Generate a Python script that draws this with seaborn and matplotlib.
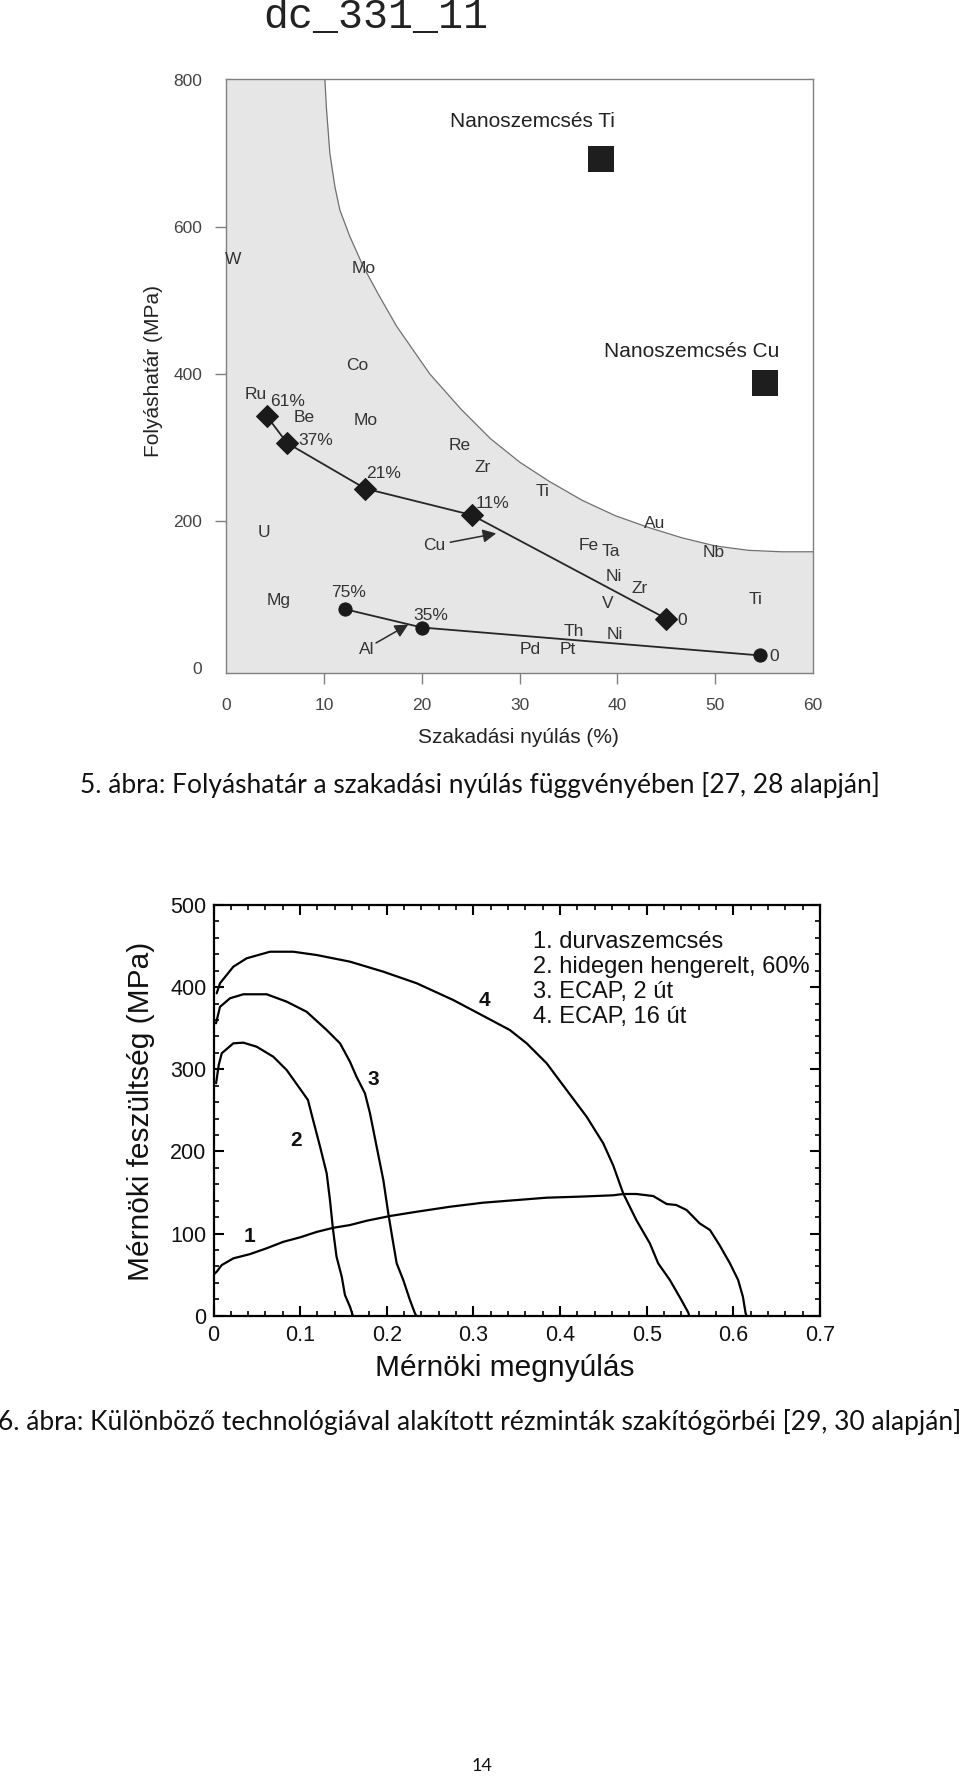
import matplotlib
matplotlib.use('Agg')
import matplotlib.pyplot as plt
import matplotlib.ticker as mtick
import seaborn as sns

# ---- figure 5: yield strength vs elongation ----
boundary_elong = [10.07, 10.24, 10.58, 11.09, 11.6, 12.62, 14.0, 15.68, 17.4, 20.8,
                  24.0, 27.0, 30.0, 33.0, 36.4, 39.8, 43.2, 46.6, 50.0, 53.4,
                  56.8, 60.0]
boundary_yield = [801, 759, 700, 655, 623, 587, 546, 505, 465, 400,
                  352, 312, 280, 254, 228, 207, 191, 177, 166, 160,
                  158, 158]

cu_elong = [4.1, 6.2, 14.2, 25.1, 45.0]
cu_yield = [343, 306, 244, 208, 67]
al_elong = [12.1, 20.0, 54.6]
al_yield = [80, 55, 17]

nano_names = ['Nanoszemcsés Ti', 'Nanoszemcsés Cu']
nano_elong = [38.3, 55.1]
nano_yield = [692, 387]

metal_names = ['W', 'Mo', 'Co', 'Be', 'Mo', 'Re', 'Zr', 'Ti', 'U', 'Mg',
               'Au', 'Fe', 'Ta', 'Nb', 'Ni', 'Zr', 'V', 'Ti', 'Th', 'Ni',
               'Pd', 'Pt', 'Ru']
metal_elong = [0.72, 14.0, 13.4, 8.0, 14.2, 23.9, 26.2, 32.3, 3.8, 5.35,
               43.8, 37.1, 39.3, 49.8, 39.6, 42.25, 39.05, 54.1, 35.5, 39.7,
               31.1, 34.9, 3.0]
metal_yield = [556, 544, 411, 341, 336, 303, 273, 240, 184, 92,
               196, 167, 158, 157, 124, 108, 87, 93, 49, 46,
               25, 25, 372]

# percent labels next to the Cu / Al chains
pct_text = ['61%', '37%', '21%', '11%', '0', '75%', '35%', '0']
pct_elong = [6.2, 9.1, 16.1, 27.2, 46.6, 12.45, 20.95, 56.0]
pct_yield = [362, 310, 264, 224, 65, 102, 72, 15]

elong_ticks = [0, 10, 20, 30, 40, 50, 60]
yield_ticks = [0, 200, 400, 600, 800]

# ---- figure 6: engineering stress-strain curves ----
strain_1 = [0.0, 0.0037, 0.0095, 0.023, 0.042, 0.061, 0.0806, 0.0998, 0.119, 0.138,
            0.1575, 0.177, 0.2037, 0.2345, 0.273, 0.311, 0.346, 0.3845, 0.423, 0.461,
            0.473, 0.488, 0.5075, 0.523, 0.534, 0.546, 0.561, 0.573, 0.584, 0.596,
            0.6055, 0.611, 0.614, 0.615]
stress_1 = [50, 53.6, 61.7, 69.9, 75, 82, 90, 95.4, 102, 107,
            110.4, 115.7, 121.4, 126.6, 132.7, 137.6, 140.5, 143.7, 145, 146.6,
            148.2, 148.2, 145.7, 136, 134.8, 128.7, 112.5, 104.3, 86, 63.8,
            43.5, 23.1, 3.7, 0]

strain_2 = [0.003, 0.006, 0.0095, 0.0229, 0.0344, 0.0498, 0.069, 0.0845, 0.1036, 0.109,
            0.115, 0.123, 0.1306, 0.1344, 0.138, 0.142, 0.148, 0.1517, 0.1575, 0.1606]
stress_2 = [283, 305, 319.5, 331.6, 332.4, 327.5, 315.3, 299, 270.7, 262.6,
            238, 205.7, 173.4, 140.9, 104.3, 71.8, 47.5, 25.2, 11, 0.9]

strain_3 = [0.0029, 0.0075, 0.019, 0.0344, 0.0614, 0.0845, 0.1075, 0.1306, 0.146, 0.1575,
            0.165, 0.1748, 0.1806, 0.1883, 0.196, 0.2017, 0.2068, 0.2114, 0.219, 0.2267,
            0.2325, 0.234]
stress_3 = [356, 376, 386.4, 391.3, 391.3, 382.3, 370, 347.8, 331.6, 309.2,
            291, 270.7, 246.4, 205.7, 165.2, 124.7, 92.2, 63.8, 43.5, 19.1,
            2.9, 0]

strain_4 = [0.0037, 0.0075, 0.0229, 0.0383, 0.0652, 0.092, 0.119, 0.1575, 0.196, 0.2345,
            0.2767, 0.3113, 0.342, 0.3614, 0.3845, 0.4075, 0.4306, 0.4498, 0.4613, 0.4728,
            0.488, 0.5036, 0.5132, 0.5267, 0.54, 0.548, 0.549]
stress_4 = [392.5, 404.7, 424.9, 435.1, 443.1, 443.1, 439.1, 431, 418.8, 404.7,
            384.3, 365, 347.8, 331.6, 307.3, 274.8, 242.3, 209.9, 183, 149,
            116.5, 88.1, 63.8, 43.5, 19.1, 3.7, 0]

curve_names = ['1. durvaszemcsés', '2. hidegen hengerelt, 60%', '3. ECAP, 2 út', '4. ECAP, 16 út']
strain_ticks = [0, 0.1, 0.2, 0.3, 0.4, 0.5, 0.6, 0.7]
strain_tick_labels = ['0', '0.1', '0.2', '0.3', '0.4', '0.5', '0.6', '0.7']
stress_ticks = [0, 100, 200, 300, 400, 500]

caption_5 = '5. ábra: Folyáshatár a szakadási nyúlás függvényében [27, 28 alapján]'
caption_6 = '6. ábra: Különböző technológiával alakított rézminták szakítógörbéi [29, 30 alapján]'

sns.set_theme(style='white')
plt.rcParams['font.family'] = ['Liberation Sans', 'DejaVu Sans']
NARROW = ['Liberation Sans Narrow', 'Liberation Sans']
CAPTION = ['Lato', 'DejaVu Sans']

fig = plt.figure(figsize=(9.6, 17.79), dpi=100)
fig.patch.set_facecolor('white')

fig.text(263 / 960, 1 - 28.3 / 1779, 'dc_331_11', ha='left', va='baseline',
         family=['Liberation Mono', 'DejaVu Sans Mono'], fontsize=30, color='#222222')

# ---------------- top chart ----------------
ax1 = fig.add_axes([0.2359, 0.6219, 0.6109, 0.3336])
ax1.set_facecolor('#e6e6e6')
ax1.fill_between(boundary_elong, boundary_yield, 900, color='white', lw=0, zorder=0.5)
sns.lineplot(x=boundary_elong, y=boundary_yield, color='#707070', lw=0.9,
             sort=False, legend=False, ax=ax1)

sns.lineplot(x=cu_elong, y=cu_yield, color='#262626', lw=1.3, marker='D', ms=11,
             mec='#1a1a1a', mfc='#1a1a1a', sort=False, legend=False, ax=ax1)
sns.lineplot(x=al_elong, y=al_yield, color='#262626', lw=1.3, marker='o', ms=9.5,
             mec='#1a1a1a', mfc='#1a1a1a', sort=False, legend=False, ax=ax1)
sns.scatterplot(x=nano_elong, y=nano_yield, marker='s', s=340, color='#1e1e1e',
                linewidth=0, legend=False, ax=ax1)

# titles above the nano-grained squares
ax1.text(31.3, 743, nano_names[0], ha='center', va='center', fontsize=15, color='#222222')
ax1.text(47.6, 430, nano_names[1], ha='center', va='center', fontsize=15, color='#222222')

for name, x, y in zip(metal_names, metal_elong, metal_yield):
    ax1.text(x, y, name, ha='center', va='center', fontsize=12.5,
             family=NARROW, color='#333333')
for name, x, y in zip(pct_text, pct_elong, pct_yield):
    ax1.text(x, y, name, ha='center', va='center', fontsize=12.5,
             family=NARROW, color='#333333')

ax1.text(21.3, 167, 'Cu', ha='center', va='center', fontsize=12.5, family=NARROW, color='#333333')
ax1.text(14.4, 25, 'Al', ha='center', va='center', fontsize=12.5, family=NARROW, color='#333333')
arrow = dict(arrowstyle='-|>', color='#2a2a2a', lw=1.1, mutation_scale=20,
             shrinkA=0, shrinkB=0)
ax1.annotate('', xy=(27.6, 183), xytext=(22.9, 171), arrowprops=arrow)
ax1.annotate('', xy=(18.6, 59), xytext=(15.3, 34), arrowprops=arrow)

ax1.set_xlim(0, 60)
ax1.set_ylim(-6.4, 801)
ax1.set_xticks(elong_ticks)
ax1.set_yticks(yield_ticks)
for label in ax1.get_xticklabels() + ax1.get_yticklabels():
    label.set_family(NARROW)
ax1.tick_params(axis='both', direction='out', length=8, width=1, color='#808080',
                labelsize=12.5, labelcolor='#444444', left=True, bottom=True)
ax1.tick_params(axis='x', pad=10)
ax1.tick_params(axis='y', pad=9.5)
for t in (ax1.xaxis.get_major_ticks()[0], ax1.xaxis.get_major_ticks()[-1],
          ax1.yaxis.get_major_ticks()[0], ax1.yaxis.get_major_ticks()[-1]):
    t.tick1line.set_visible(False)
for sp in ax1.spines.values():
    sp.set_color('#808080')
    sp.set_linewidth(1.0)
ax1.grid(False)

ax1.set_xlabel('Szakadási nyúlás (%)', fontsize=15, color='#222222')
ax1.set_ylabel('Folyáshatár (MPa)', fontsize=15, color='#222222')
ax1.xaxis.label.set_va('center')
ax1.yaxis.label.set_va('center')
ax1.xaxis.set_label_coords(0.498, -0.109)
ax1.yaxis.set_label_coords(-0.1236, 0.509)

fig.text(0.5, 1 - 785 / 1779, caption_5, ha='center', va='center',
         family=CAPTION, fontsize=19, color='#111111')

# ---------------- bottom chart ----------------
ax2 = fig.add_axes([0.2224, 0.2604, 0.6318, 0.2309])
ax2.set_facecolor('white')
for sx, sy in ((strain_1, stress_1), (strain_2, stress_2),
               (strain_3, stress_3), (strain_4, stress_4)):
    sns.lineplot(x=sx, y=sy, color='black', lw=1.6, sort=False, legend=False, ax=ax2)

for num, x, y in zip(['1', '2', '3', '4'], [0.042, 0.095, 0.185, 0.313], [96, 213, 288, 384]):
    ax2.text(x, y, num, ha='center', va='center', fontsize=15, fontweight='bold',
             family=NARROW, color='#111111')

for i, line in enumerate(curve_names):
    ax2.text(0.369, 455.3 - i * 30.4, line, ha='left', va='center',
             fontsize=17, color='#111111')

ax2.set_xlim(0, 0.7)
ax2.set_ylim(0, 500)
ax2.set_xticks(strain_ticks, strain_tick_labels)
ax2.set_yticks(stress_ticks)
ax2.xaxis.set_minor_locator(mtick.MultipleLocator(0.02))
ax2.yaxis.set_minor_locator(mtick.MultipleLocator(20))
for label in ax2.get_xticklabels() + ax2.get_yticklabels():
    label.set_family(NARROW)
ax2.tick_params(axis='both', which='major', direction='in', length=7.5, width=1.5,
                color='black', top=True, right=True, bottom=True, left=True,
                labelsize=15.5, labelcolor='#111111')
ax2.tick_params(axis='both', which='minor', direction='in', length=3.8, width=1.2,
                color='black', top=True, right=True, bottom=True, left=True)
ax2.tick_params(axis='x', which='major', pad=7)
ax2.tick_params(axis='y', which='major', pad=5)
for sp in ax2.spines.values():
    sp.set_color('black')
    sp.set_linewidth(1.6)
ax2.grid(False)

ax2.set_xlabel('Mérnöki megnyúlás', fontsize=21.5, color='#111111')
ax2.set_ylabel('Mérnöki feszültség (MPa)', fontsize=21.5, color='#111111')
ax2.xaxis.label.set_va('center')
ax2.yaxis.label.set_va('center')
ax2.xaxis.set_label_coords(0.4806, -0.126)
ax2.yaxis.set_label_coords(-0.1195, 0.498)

fig.text(0.5, 1 - 1422 / 1779, caption_6, ha='center', va='center',
         family=CAPTION, fontsize=19, color='#111111')

fig.text(481.7 / 960, 1 - 1766 / 1779, '14', ha='center', va='center',
         family=CAPTION, fontsize=13, color='#111111')

fig.savefig('out.png', dpi=100, facecolor='white')
